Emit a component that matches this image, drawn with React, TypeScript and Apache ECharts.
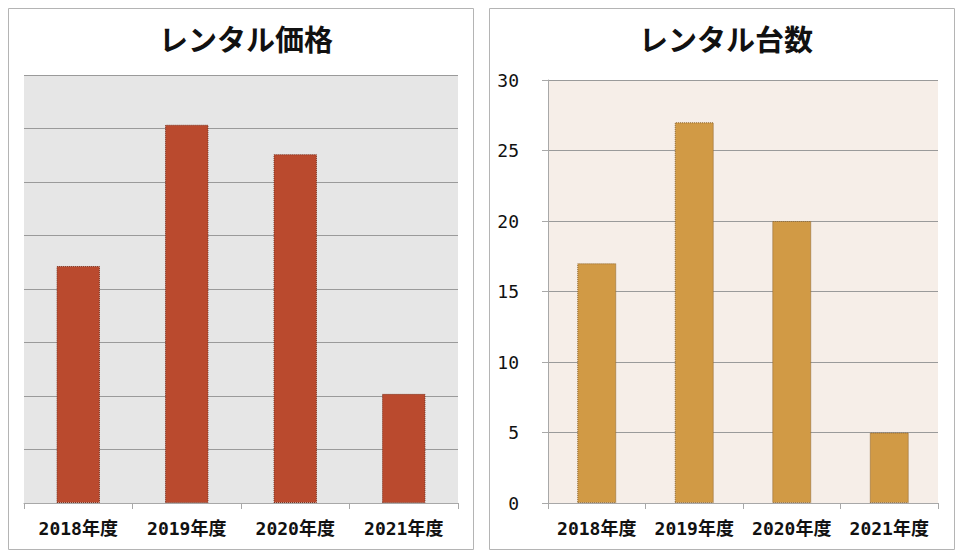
import React, { useEffect, useRef } from "react";
import * as echarts from "echarts";

const categories = ["2018年度", "2019年度", "2020年度", "2021年度"];
const priceValues = [4.43, 7.07, 6.52, 2.04];
const countValues = [17, 27, 20, 5];
const countTicks = [0, 5, 10, 15, 20, 25, 30];
const titles = ["レンタル価格", "レンタル台数"];

const labelFont = '"DejaVu Sans Mono", "Noto Sans CJK JP", monospace';
const titleFont = '"Noto Sans CJK JP", sans-serif';

export default function App() {
  const ref = useRef<HTMLDivElement>(null);
  useEffect(() => {
    if (!ref.current) return;
    const chart = echarts.init(ref.current, null, { renderer: "svg" });
    const axisLabel = { color: "#111", fontFamily: labelFont, fontSize: 18, fontWeight: "bold" as const };
    chart.setOption({
      animation: false,
      backgroundColor: "#ffffff",
      title: [
        {
          text: titles[0],
          left: 241,
          top: 33,
          textAlign: "center",
          textVerticalAlign: "middle",
          textStyle: { fontFamily: titleFont, fontSize: 29, fontWeight: "bold", color: "#111" },
        },
        {
          text: titles[1],
          left: 721,
          top: 33,
          textAlign: "center",
          textVerticalAlign: "middle",
          textStyle: { fontFamily: titleFont, fontSize: 29, fontWeight: "bold", color: "#111" },
        },
      ],
      graphic: [
        {
          type: "rect",
          shape: { x: 8.5, y: 8.5, width: 465, height: 541 },
          style: { fill: "none", stroke: "#b4b4b4", lineWidth: 1 },
          z: -1,
        },
        {
          type: "rect",
          shape: { x: 489.5, y: 8.5, width: 465, height: 541 },
          style: { fill: "none", stroke: "#b4b4b4", lineWidth: 1 },
          z: -1,
        },
      ],
      grid: [
        { left: 24, top: 75, width: 434, height: 428, show: true, backgroundColor: "#e6e6e6", borderWidth: 0, containLabel: false },
        { left: 548, top: 80, width: 390, height: 423, show: true, backgroundColor: "#f6eee8", borderWidth: 0, containLabel: false },
      ],
      xAxis: [
        {
          type: "category",
          gridIndex: 0,
          data: categories,
          axisLine: { lineStyle: { color: "#a8a8a8", width: 1 } },
          axisTick: { show: true, length: 6, lineStyle: { color: "#a8a8a8" } },
          axisLabel: { ...axisLabel, margin: 16, interval: 0 },
        },
        {
          type: "category",
          gridIndex: 1,
          data: categories,
          axisLine: { lineStyle: { color: "#a8a8a8", width: 1 } },
          axisTick: { show: true, length: 6, lineStyle: { color: "#a8a8a8" } },
          axisLabel: { ...axisLabel, margin: 16, interval: 0 },
        },
      ],
      yAxis: [
        {
          type: "value",
          gridIndex: 0,
          min: 0,
          max: 8,
          interval: 1,
          axisLine: { show: false },
          axisTick: { show: false },
          axisLabel: { show: false },
          splitLine: { lineStyle: { color: "#9a9a9a", width: 1 } },
        },
        {
          type: "value",
          gridIndex: 1,
          min: countTicks[0],
          max: countTicks[countTicks.length - 1],
          interval: 5,
          axisLine: { show: true, lineStyle: { color: "#a8a8a8", width: 1 } },
          axisTick: { show: true, length: 6, lineStyle: { color: "#a8a8a8" } },
          axisLabel: { ...axisLabel, fontWeight: "normal", margin: 29 },
          splitLine: { lineStyle: { color: "#9a9a9a", width: 1 } },
        },
      ],
      series: [
        {
          type: "bar",
          xAxisIndex: 0,
          yAxisIndex: 0,
          data: priceValues,
          barWidth: "40%",
          itemStyle: { color: "#ba4a2e", borderColor: "#7a2e1a", borderWidth: 1, borderType: "dotted" },
        },
        {
          type: "bar",
          xAxisIndex: 1,
          yAxisIndex: 1,
          data: countValues,
          barWidth: "40%",
          itemStyle: { color: "#d19a45", borderColor: "#8a6430", borderWidth: 1, borderType: "dotted" },
        },
      ],
    });
    return () => chart.dispose();
  }, []);
  return (
    <div
      ref={ref}
      style={{ position: "absolute", left: 0, top: 0, width: 960, height: 556 }}
    />
  );
}
